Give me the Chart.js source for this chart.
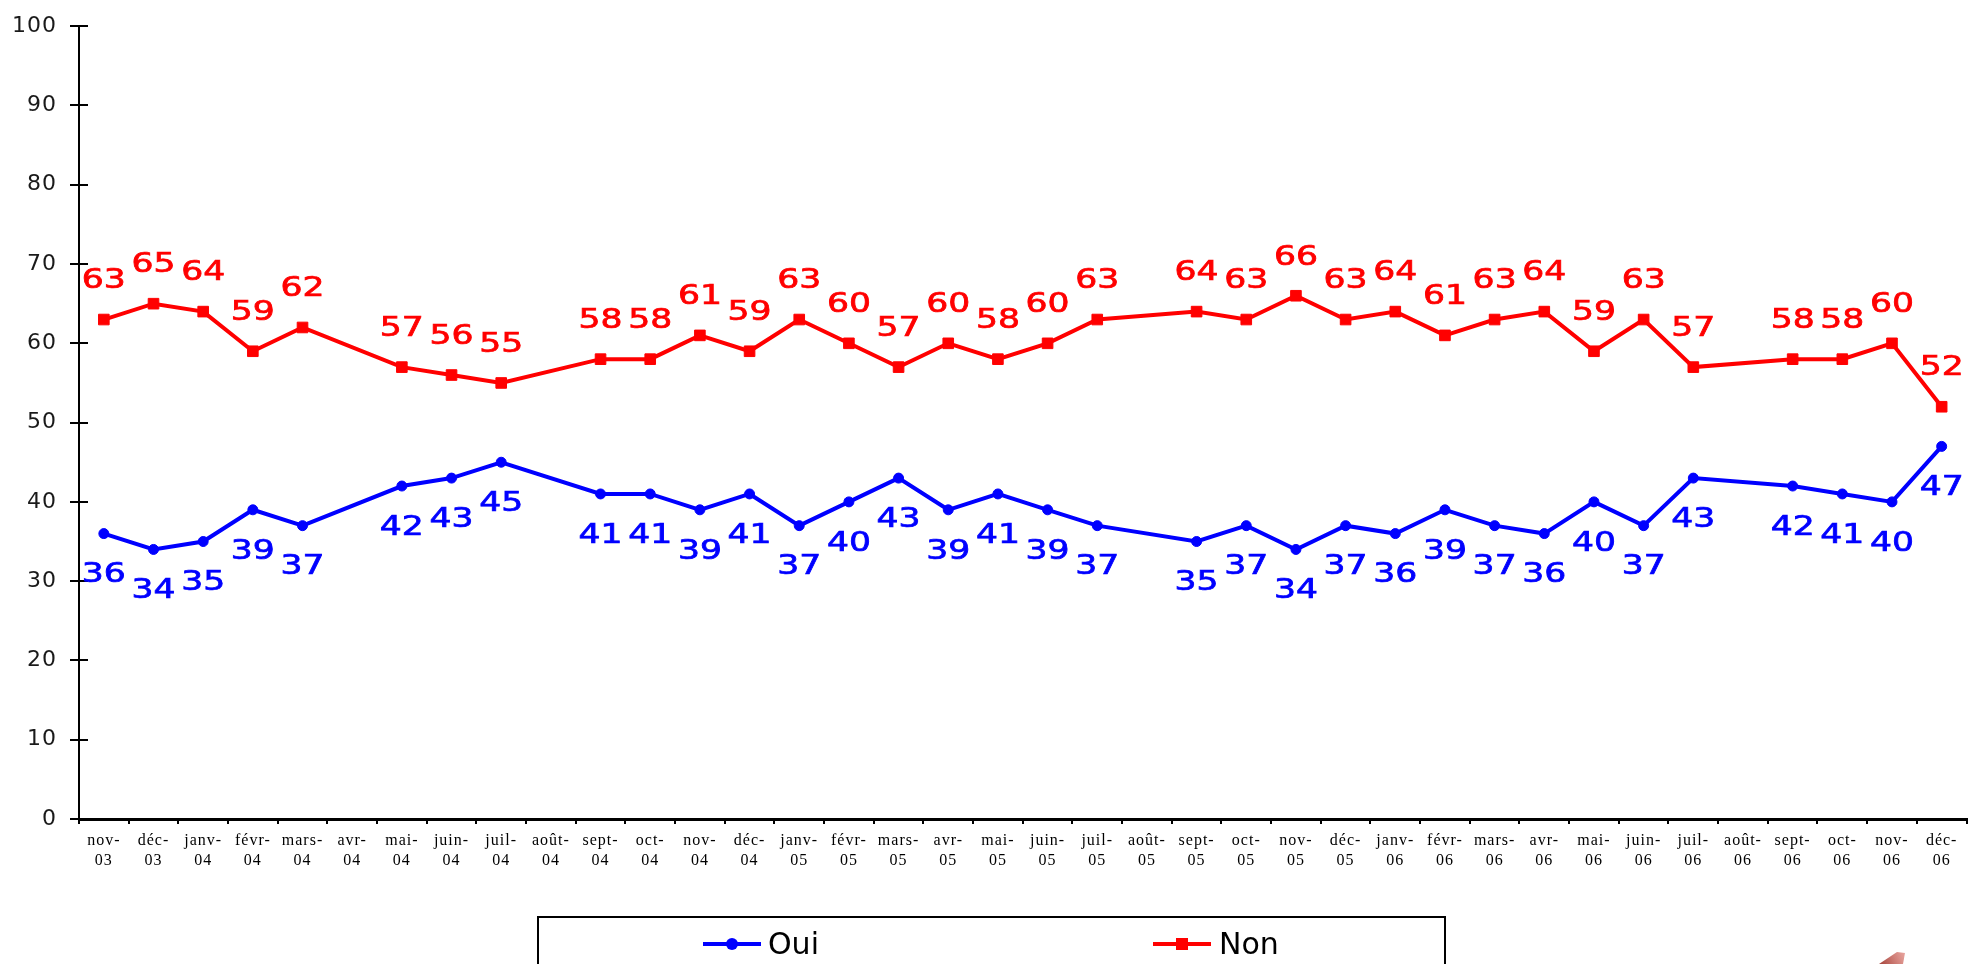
<!DOCTYPE html>
<html lang="fr">
<head>
<meta charset="utf-8">
<title>Oui / Non</title>
<script src="https://cdn.jsdelivr.net/npm/chart.js@4.4.1/dist/chart.umd.min.js"></script>
<style>
  html, body { margin: 0; padding: 0; background: #fff; }
  #wrap { width: 1975px; height: 964px; position: relative; }
</style>
</head>
<body>
<div id="wrap"><canvas id="chart" width="1975" height="964"></canvas></div>
<script>
// Monthly survey results, Nov 2003 – Dec 2006 (null = no survey that month)
const months = [
  ['nov-', '03'], ['déc-', '03'],
  ['janv-', '04'], ['févr-', '04'], ['mars-', '04'], ['avr-', '04'], ['mai-', '04'], ['juin-', '04'],
  ['juil-', '04'], ['août-', '04'], ['sept-', '04'], ['oct-', '04'], ['nov-', '04'], ['déc-', '04'],
  ['janv-', '05'], ['févr-', '05'], ['mars-', '05'], ['avr-', '05'], ['mai-', '05'], ['juin-', '05'],
  ['juil-', '05'], ['août-', '05'], ['sept-', '05'], ['oct-', '05'], ['nov-', '05'], ['déc-', '05'],
  ['janv-', '06'], ['févr-', '06'], ['mars-', '06'], ['avr-', '06'], ['mai-', '06'], ['juin-', '06'],
  ['juil-', '06'], ['août-', '06'], ['sept-', '06'], ['oct-', '06'], ['nov-', '06'], ['déc-', '06']
];

const oui = [
  36, 34,
  35, 39, 37, null, 42, 43,
  45, null, 41, 41, 39, 41,
  37, 40, 43, 39, 41, 39,
  37, null, 35, 37, 34, 37,
  36, 39, 37, 36, 40, 37,
  43, null, 42, 41, 40, 47
];

const non = [
  63, 65,
  64, 59, 62, null, 57, 56,
  55, null, 58, 58, 61, 59,
  63, 60, 57, 60, 58, 60,
  63, null, 64, 63, 66, 63,
  64, 61, 63, 64, 59, 63,
  57, null, 58, 58, 60, 52
];

const yTicks = [0, 10, 20, 30, 40, 50, 60, 70, 80, 90, 100];

const BLUE = '#0000ff';
const RED = '#ff0000';

// Value labels above / below each point, slightly widened
const valueLabels = {
  id: 'valueLabels',
  afterDatasetsDraw(chart) {
    const ctx = chart.ctx;
    chart.data.datasets.forEach((ds, i) => {
      const meta = chart.getDatasetMeta(i);
      meta.data.forEach((pt, j) => {
        const v = ds.data[j];
        if (v === null || v === undefined) return;
        ctx.save();
        ctx.translate(pt.x, pt.y + ds.labelShift);
        ctx.scale(1.33, 1);
        ctx.font = '26px "DejaVu Sans"';
        ctx.fillStyle = ds.borderColor;
        ctx.strokeStyle = ds.borderColor;
        ctx.lineWidth = 0.7;
        ctx.textAlign = 'center';
        ctx.textBaseline = 'middle';
        ctx.fillText(String(v), 0, 0);
        ctx.strokeText(String(v), 0, 0);
        ctx.restore();
      });
    });
  }
};

// Letter spacing for the axis labels, inner tick marks on the value axis
const axisDecor = {
  id: 'axisDecor',
  beforeDraw(chart) {
    chart.ctx.letterSpacing = '1px';
  },
  beforeDatasetsDraw(chart) {
    const ctx = chart.ctx;
    ctx.letterSpacing = '0px';
    const y = chart.scales.y;
    const left = chart.chartArea.left;
    ctx.save();
    ctx.strokeStyle = '#000';
    ctx.lineWidth = 2;
    y.ticks.forEach(t => {
      const py = Math.round(y.getPixelForValue(t.value));
      ctx.beginPath();
      ctx.moveTo(left, py);
      ctx.lineTo(left + 9, py);
      ctx.stroke();
    });
    ctx.restore();
  }
};

// Framed legend below the chart
const boxLegend = {
  id: 'boxLegend',
  afterDraw(chart) {
    const ctx = chart.ctx;
    ctx.save();
    ctx.strokeStyle = '#000';
    ctx.lineWidth = 2;
    ctx.strokeRect(538, 917, 907, 80);

    const items = [
      { ds: chart.data.datasets[0], x0: 703, x1: 761, tx: 768 },
      { ds: chart.data.datasets[1], x0: 1153, x1: 1211, tx: 1219 }
    ];
    const cy = 944;
    items.forEach(it => {
      ctx.strokeStyle = it.ds.borderColor;
      ctx.lineWidth = 4;
      ctx.beginPath();
      ctx.moveTo(it.x0, cy);
      ctx.lineTo(it.x1, cy);
      ctx.stroke();
      ctx.fillStyle = it.ds.borderColor;
      const mx = (it.x0 + it.x1) / 2;
      if (it.ds.pointStyle === 'rect') {
        ctx.fillRect(mx - 6, cy - 6, 12, 12);
      } else {
        ctx.beginPath();
        ctx.arc(mx, cy, 6, 0, Math.PI * 2);
        ctx.fill();
      }
      ctx.fillStyle = '#000';
      ctx.font = '30px "DejaVu Sans"';
      ctx.textAlign = 'left';
      ctx.textBaseline = 'alphabetic';
      ctx.fillText(it.ds.label, it.tx, 954);
    });

    // small logo corner at the bottom right
    const g = ctx.createLinearGradient(1878, 964, 1905, 950);
    g.addColorStop(0, 'rgba(150,40,30,0.9)');
    g.addColorStop(1, 'rgba(220,110,100,0.6)');
    ctx.fillStyle = g;
    ctx.beginPath();
    ctx.moveTo(1879, 964);
    ctx.lineTo(1897, 952);
    ctx.lineTo(1905, 953);
    ctx.lineTo(1903, 964);
    ctx.closePath();
    ctx.fill();
    ctx.restore();
  }
};

new Chart(document.getElementById('chart'), {
  type: 'line',
  data: {
    labels: months,
    datasets: [
      {
        label: 'Oui',
        data: oui,
        borderColor: BLUE,
        backgroundColor: BLUE,
        borderWidth: 4,
        pointStyle: 'circle',
        pointRadius: 5,
        pointBorderWidth: 1,
        pointHoverRadius: 5,
        spanGaps: true,
        tension: 0,
        labelShift: 42
      },
      {
        label: 'Non',
        data: non,
        borderColor: RED,
        backgroundColor: RED,
        borderWidth: 4,
        pointStyle: 'rect',
        pointRadius: 7.5,
        pointBorderWidth: 1,
        pointHoverRadius: 7.5,
        spanGaps: true,
        tension: 0,
        labelShift: -38
      }
    ]
  },
  options: {
    responsive: false,
    animation: false,
    events: [],
    layout: { padding: { top: 20, right: 0, bottom: 0, left: 0 } },
    plugins: {
      legend: { display: false },
      tooltip: { enabled: false }
    },
    scales: {
      x: {
        type: 'category',
        offset: true,
        grid: {
          offset: true,
          drawOnChartArea: false,
          drawTicks: true,
          tickLength: 5,
          color: '#000',
          lineWidth: 2
        },
        border: { display: true, color: '#000', width: 3 },
        ticks: {
          autoSkip: false,
          maxRotation: 0,
          padding: 7,
          color: '#000',
          font: { family: '"Liberation Serif"', size: 16, lineHeight: 1.25 }
        },
        afterFit(scale) { scale.height = 145; }
      },
      y: {
        min: 0,
        max: 100,
        afterBuildTicks(scale) { scale.ticks = yTicks.map(v => ({ value: v })); },
        grid: {
          drawOnChartArea: false,
          drawTicks: true,
          tickLength: 9,
          color: '#000',
          lineWidth: 2
        },
        border: { display: true, color: '#000', width: 2 },
        ticks: {
          padding: 13,
          color: '#1a1a1a',
          font: { family: '"DejaVu Sans"', size: 22 }
        },
        afterFit(scale) { scale.width = 79; }
      }
    }
  },
  plugins: [valueLabels, axisDecor, boxLegend]
});
</script>
</body>
</html>
